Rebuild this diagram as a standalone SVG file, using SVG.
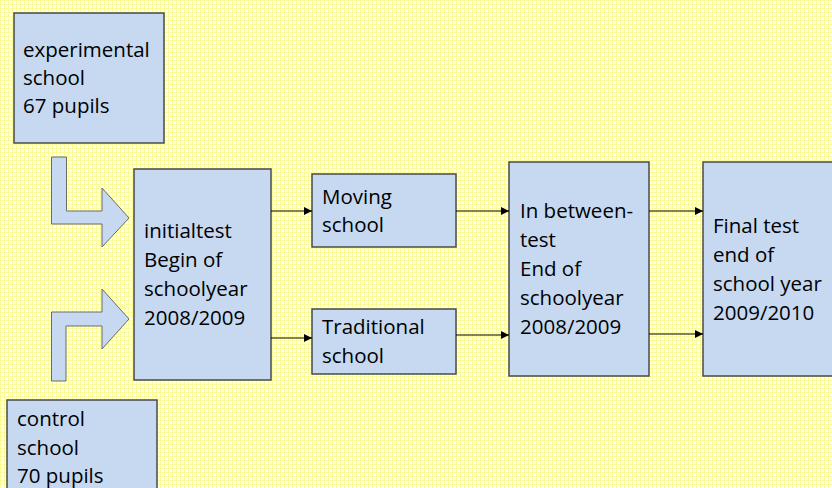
<svg xmlns="http://www.w3.org/2000/svg" width="832" height="488" viewBox="0 0 832 488">
<defs>
<pattern id="bg" width="8" height="8" patternUnits="userSpaceOnUse">
<rect width="8" height="8" fill="#ffffff"/>
<rect x="0" y="0" width="8" height="1" fill="#fbfb9a"/>
<rect x="0" y="4" width="8" height="1" fill="#fbfb9a"/>
<rect x="0" y="0" width="1" height="8" fill="#fbfb9a"/>
<rect x="4" y="0" width="1" height="8" fill="#fbfb9a"/>
<rect x="2" y="2" width="1" height="1" fill="#fdfdb8"/>
<rect x="6" y="6" width="1" height="1" fill="#fdfdb8"/>
</pattern>
<marker id="ah" viewBox="0 0 10 10" refX="10" refY="5" markerWidth="8" markerHeight="8" markerUnits="userSpaceOnUse" orient="auto">
<path d="M0,0 L10,5 L0,10 Z" fill="#000"/>
</marker>
<style>
.box{fill:#c6d9f1;stroke:#4a4a4a;stroke-width:1.5}
.blk{fill:#c6d9f1;stroke:#6a6a6a;stroke-width:1}
.t{font-family:"Open Sans","Liberation Sans",sans-serif;font-size:20.5px;fill:#000}
.c{stroke:#000;stroke-width:1;fill:none}
</style>
</defs>
<rect width="832" height="488" fill="url(#bg)"/>
<g id="experimental">
<rect class="box" x="14" y="13" width="150" height="130"/>
<text class="t" x="23" y="57">experimental</text>
<text class="t" x="23" y="85">school</text>
<text class="t" x="23" y="113">67 pupils</text>
</g>
<g id="control">
<rect class="box" x="7" y="400" width="150" height="100"/>
<text class="t" x="17" y="426">control</text>
<text class="t" x="17" y="455">school</text>
<text class="t" x="17" y="483">70 pupils</text>
</g>
<g id="arrow-exp">
<polygon class="blk" points="51.5,157 66.5,157 66.5,211 102,211 102,188 129,218 102,247 102,224 51.5,224"/>
</g>
<g id="arrow-ctrl">
<polygon class="blk" points="51.5,381 51.5,312 102,312 102,289 129,319 102,349 102,326 66,326 66,381"/>
</g>
<g id="initialtest">
<rect class="box" x="134" y="169" width="137" height="211"/>
<text class="t" x="144" y="238">initialtest</text>
<text class="t" x="144" y="267">Begin of</text>
<text class="t" x="144" y="296">schoolyear</text>
<text class="t" x="144" y="325">2008/2009</text>
</g>
<g id="moving">
<rect class="box" x="312" y="174" width="144" height="73"/>
<text class="t" x="322" y="204">Moving</text>
<text class="t" x="322" y="232">school</text>
</g>
<g id="traditional">
<rect class="box" x="312" y="309" width="144" height="65"/>
<text class="t" x="322" y="334">Traditional</text>
<text class="t" x="322" y="363">school</text>
</g>
<g id="inbetween">
<rect class="box" x="509" y="162" width="140" height="214"/>
<text class="t" x="520" y="218">In between-</text>
<text class="t" x="520" y="247">test</text>
<text class="t" x="520" y="276">End of</text>
<text class="t" x="520" y="305">schoolyear</text>
<text class="t" x="520" y="334">2008/2009</text>
</g>
<g id="final">
<rect class="box" x="703" y="162" width="140" height="214"/>
<text class="t" x="713" y="233">Final test</text>
<text class="t" x="713" y="262">end of</text>
<text class="t" x="713" y="291">school year</text>
<text class="t" x="713" y="320">2009/2010</text>
</g>
<g id="connectors">
<line class="c" x1="271" y1="211" x2="312" y2="211" marker-end="url(#ah)"/>
<line class="c" x1="271" y1="338" x2="312" y2="338" marker-end="url(#ah)"/>
<line class="c" x1="456" y1="211" x2="509" y2="211" marker-end="url(#ah)"/>
<line class="c" x1="456" y1="335" x2="509" y2="335" marker-end="url(#ah)"/>
<line class="c" x1="649" y1="211" x2="703" y2="211" marker-end="url(#ah)"/>
<line class="c" x1="649" y1="334" x2="703" y2="334" marker-end="url(#ah)"/>
</g>
</svg>
